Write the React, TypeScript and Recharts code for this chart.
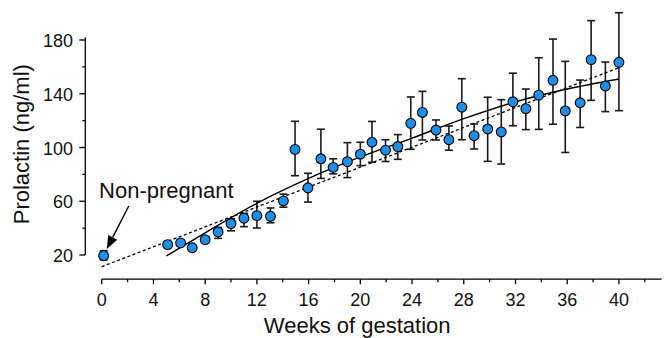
import React from "react";
import { ScatterChart, Scatter, XAxis, YAxis, ErrorBar, ReferenceLine, Label } from "recharts";

// weeks of gestation (as plotted, slight offsets kept)
const weeks = [
  0.15, 5.1, 6.1, 7.0, 8.0, 9.0, 10.0, 11.0, 12.0, 13.05, 14.05, 14.95, 15.95, 16.95, 17.9, 19.0, 20.0,
  20.9, 21.95, 22.9, 23.9, 24.8, 25.85, 26.85, 27.85, 28.8, 29.85, 30.9, 31.8, 32.8, 33.8, 34.9, 35.85,
  37.0, 37.85, 38.95, 40.0,
];
const prolactin = [
  19.5, 27.7, 29, 25.4, 31.4, 37.2, 43.4, 47.4, 49.3, 48.8, 60.3, 98.6, 70, 91.6, 85.2, 89.5, 95,
  103.9, 98, 100.7, 118, 126.1, 113, 105.8, 130, 108.8, 113.8, 111.6, 134, 128.9, 139, 150, 127.2,
  133.3, 165.4, 145.8, 163.4,
];
const upper = [
  23.2, 30, 31, 27.5, 33.5, 40.5, 47, 51, 60, 55, 65.3, 119.5, 80.8, 113.6, 91.6, 103.6, 103.9,
  119.4, 105.8, 109.6, 137.6, 141.8, 120.5, 116, 151.2, 117.5, 137.4, 135.6, 155.3, 143.5, 166.8, 180.7, 164.1,
  150.2, 194.4, 163.6, 200.3,
];
const lower = [
  16.3, 25.5, 27, 23.5, 29.5, 32.4, 38, 41.1, 40.1, 44, 55.6, 79, 59.4, 77, 80.4, 77.6, 86.5,
  89, 89.6, 91.2, 98.7, 105.6, 105.6, 98, 105.8, 98.9, 89.7, 87.7, 116.2, 113.3, 113.5, 117.3, 96.3,
  114.9, 135.1, 126.7, 127.4,
];

// dotted straight fit
const fitWeeks = [0, 40];
const fitValues = [11.3, 159.4];

// solid curved fit
const curveWeeks = [5, 8, 12, 16, 20, 24, 28, 32, 36, 40];
const curveValues = [19.3, 36.5, 58.5, 77, 93, 107, 121.5, 134, 143.5, 151];

const xTicks = [0, 2, 4, 6, 8, 10, 12, 14, 16, 18, 20, 22, 24, 26, 28, 30, 32, 34, 36, 38, 40, 42];
const yTicks = [20, 40, 60, 80, 100, 120, 140, 160, 180];

const points = weeks.map((x, i) => ({
  x,
  y: prolactin[i],
  err: [prolactin[i] - lower[i], upper[i] - prolactin[i]],
}));
const fitData = fitWeeks.map((x, i) => ({ x, y: fitValues[i] }));
const curveData = curveWeeks.map((x, i) => ({ x, y: curveValues[i] }));

const FONT = "'Liberation Sans', Arial, Helvetica, sans-serif";
const INK = "#111";

const XTick = (props: any) => {
  const { x, y, payload } = props;
  const major = payload.value % 4 === 0;
  return (
    <g>
      <line x1={x} y1={y} x2={x} y2={y + (major ? 5 : 3)} stroke="#000" strokeWidth={1.3} />
      {major && (
        <text x={x} y={y + 26.5} textAnchor="middle" fontSize={18} fontFamily={FONT} fill={INK}>
          {payload.value}
        </text>
      )}
    </g>
  );
};

const YTick = (props: any) => {
  const { x, y, payload } = props;
  const major = payload.value % 40 === 20;
  return (
    <g>
      <line x1={x - (major ? 6 : 3)} y1={y} x2={x} y2={y} stroke="#000" strokeWidth={1.3} />
      {major && (
        <text x={x - 12.3} y={y + 7} textAnchor="end" fontSize={18} fontFamily={FONT} fill={INK}>
          {payload.value}
        </text>
      )}
    </g>
  );
};

const ArrowNote = (p: any) => {
  const { x1, y1, x2, y2 } = p;
  const dx = x2 - x1;
  const dy = y2 - y1;
  const len = Math.hypot(dx, dy) || 1;
  const ux = dx / len;
  const uy = dy / len;
  const head = 13;
  const half = 5;
  const bx = x2 - ux * head;
  const by = y2 - uy * head;
  return (
    <g>
      <line x1={x1} y1={y1} x2={bx} y2={by} stroke="#000" strokeWidth={1.4} />
      <polygon
        points={`${x2},${y2} ${bx - uy * half},${by + ux * half} ${bx + uy * half},${by - ux * half}`}
        fill="#000"
      />
      <text x={x1 - 29.7} y={y1 - 7.7} fontSize={22} fontFamily={FONT} fill={INK}>
        Non-pregnant
      </text>
    </g>
  );
};

const noDot = () => <g />;

export default function App() {
  return (
    <div style={{ position: "absolute", left: 0, top: 0, width: 670, height: 338, background: "#fff" }}>
      <ScatterChart width={670} height={338} margin={{ top: 6.4, right: 8.4, bottom: 28.8, left: 25.3 }}>
        <XAxis
          type="number"
          dataKey="x"
          domain={[-1.27, 43.3]}
          ticks={xTicks}
          interval={0}
          height={30}
          axisLine={false}
          tickLine={false}
          tickSize={0}
          tickMargin={0}
          tick={XTick}
          allowDataOverflow
        >
          <Label
            content={() => (
              <text x={357.2} y={333.3} textAnchor="middle" fontSize={22} fontFamily={FONT} fill={INK}>
                Weeks of gestation
              </text>
            )}
          />
        </XAxis>
        <YAxis
          type="number"
          dataKey="y"
          domain={[2, 205]}
          ticks={yTicks}
          interval={0}
          width={60}
          axisLine={false}
          tickLine={false}
          tickSize={0}
          tickMargin={0}
          tick={YTick}
          allowDataOverflow
        >
          <Label
            content={() => (
              <text
                x={29.5}
                y={144.2}
                transform="rotate(-90, 29.5, 144.2)"
                textAnchor="middle"
                fontSize={22}
                fontFamily={FONT}
                fill={INK}
              >
                Prolactin (ng/ml)
              </text>
            )}
          />
        </YAxis>

        <ReferenceLine
          segment={[{ x: -1.27, y: 20 }, { x: -1.27, y: 182 }]}
          stroke="#000"
          strokeWidth={1.3}
          ifOverflow="visible"
        />
        <ReferenceLine
          segment={[{ x: 0, y: 2 }, { x: 43.3, y: 2 }]}
          stroke="#000"
          strokeWidth={1.3}
          ifOverflow="visible"
        />

        <Scatter
          data={fitData}
          line={{ stroke: "#000", strokeWidth: 1.3, strokeDasharray: "3 2.5" }}
          lineJointType="linear"
          shape={noDot}
          legendType="none"
          isAnimationActive={false}
        />
        <Scatter
          data={curveData}
          line={{ stroke: "#000", strokeWidth: 1.4 }}
          lineJointType="monotoneX"
          shape={noDot}
          legendType="none"
          isAnimationActive={false}
        />
        <Scatter
          data={points}
          shape={(p: any) => (
            <circle cx={p.cx} cy={p.cy} r={4.9} fill="#1d8fe6" stroke="#000" strokeWidth={1.1} />
          )}
          isAnimationActive={false}
        >
          <ErrorBar
            dataKey="err"
            direction="y"
            width={4}
            stroke="#1a1a1a"
            strokeWidth={1.6}
            isAnimationActive={false}
          />
        </Scatter>

        <ReferenceLine
          segment={[{ x: 2.09, y: 56.5 }, { x: 0.39, y: 24.5 }]}
          shape={ArrowNote}
          ifOverflow="visible"
        />
      </ScatterChart>
    </div>
  );
}
